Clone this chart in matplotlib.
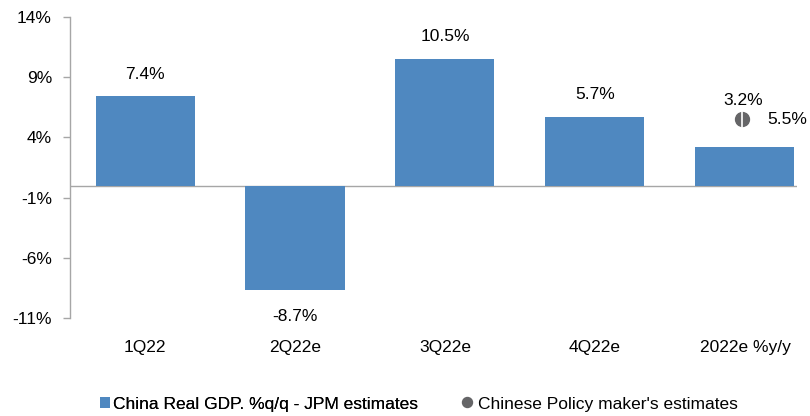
import matplotlib
matplotlib.use("Agg")
import matplotlib.pyplot as plt
from matplotlib.lines import Line2D
from matplotlib.patches import Patch

plt.rcParams["font.family"] = ["Liberation Sans", "DejaVu Sans"]

categories = ["1Q22", "2Q22e", "3Q22e", "4Q22e", "2022e %y/y"]
jpm_estimates = [7.4, -8.7, 10.5, 5.7, 3.2]
policy_estimate = 5.5
y_ticks = [-11, -6, -1, 4, 9, 14]

BAR_COLOR = "#4F88C0"
DOT_COLOR = "#656567"
AXIS_COLOR = "#A6A6A6"
FS = 12.5

fig = plt.figure(figsize=(8.1, 4.16), dpi=100)
ax = fig.add_axes([70 / 810, 1 - 318 / 416, 727 / 810, 301 / 416])

x = list(range(len(categories)))
ax.bar(x, jpm_estimates, width=0.66, color=BAR_COLOR, zorder=2)

# value labels above positive bars, below negative ones
for i, v in enumerate(jpm_estimates):
    if i == len(categories) - 1:
        ax.text(i - 0.01, v + 3.9, f"{v:.1f}%", ha="center", va="center", fontsize=FS)
    elif v >= 0:
        ax.text(i, v + 1.85, f"{v:.1f}%", ha="center", va="center", fontsize=FS)
    else:
        ax.text(i, v - 2.15, f"{v:.1f}%", ha="center", va="center", fontsize=FS)

# policy maker estimate for the full year
px = len(categories) - 1 - 0.02
ax.scatter([px], [policy_estimate], s=100, color=DOT_COLOR, zorder=3)
ax.plot([px, px], [policy_estimate - 0.6, policy_estimate + 0.6],
        color="white", linewidth=1.2, zorder=4)
ax.text(px + 0.167, policy_estimate, f"{policy_estimate:.1f}%", ha="left",
        va="center", fontsize=FS)

ax.axhline(0, color=AXIS_COLOR, linewidth=1.0, zorder=1)
ax.set_xlim(-0.5, (797 - 70) / 150 - 0.5)
ax.set_ylim(-11, 14)
ax.set_yticks(y_ticks)
ax.set_yticklabels([f"{t}%" for t in y_ticks], fontsize=FS)
ax.set_xticks(x)
ax.set_xticklabels(categories, fontsize=FS)
ax.tick_params(axis="x", length=0, pad=16)
ax.tick_params(axis="y", length=5, width=1, color=AXIS_COLOR, pad=8)

for side in ["top", "right", "bottom"]:
    ax.spines[side].set_visible(False)
ax.spines["left"].set_color(AXIS_COLOR)
ax.spines["left"].set_linewidth(1.0)

# two legend entries, placed separately along the bottom
leg_y = 1 - 404 / 416
bar_handle = Patch(facecolor=BAR_COLOR, label="China Real GDP. %q/q - JPM estimates")
dot_handle = Line2D([], [], marker="o", linestyle="none", color=DOT_COLOR,
                    markersize=7.2, label="Chinese Policy maker's estimates")
leg1 = fig.legend(handles=[bar_handle], loc="center left", bbox_to_anchor=(100 / 810, leg_y),
                  frameon=False, fontsize=FS, handlelength=0.58, handleheight=0.58,
                  handletextpad=0.17, borderpad=0, borderaxespad=0)
fig.legend(handles=[dot_handle], loc="center left", bbox_to_anchor=(462 / 810, leg_y),
           frameon=False, fontsize=FS, handlelength=0.6, handletextpad=0.35,
           borderpad=0, borderaxespad=0)
fig.add_artist(leg1)

fig.savefig("out.png", dpi=100)
